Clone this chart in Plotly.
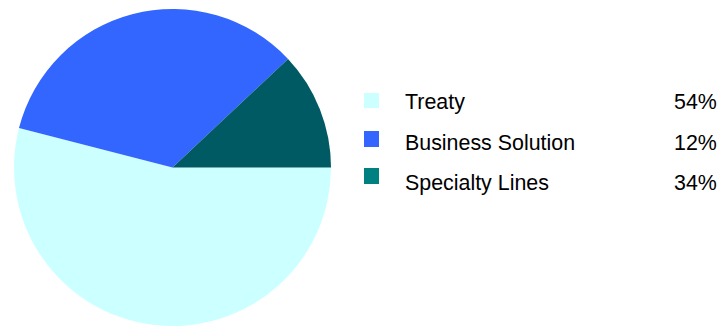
import plotly.graph_objects as go

# Portfolio split by line of business (percent)
labels = ["Treaty", "Specialty Lines", "Business Solution"]
values = [54, 34, 12]
slice_colors = ["#CCFFFF", "#3366FF", "#005A64"]

# Legend rows, listed top to bottom
legend_labels = ["Treaty", "Business Solution", "Specialty Lines"]
legend_colors = ["#CCFFFF", "#3366FF", "#008080"]

W, H = 720, 326
TOP = 9
FONT = "Liberation Sans, Arial, sans-serif"


def px_x(px):
    return px / W


def px_y(py):
    return (H - py) / (H - TOP)


fig = go.Figure(
    go.Pie(
        labels=labels,
        values=values,
        marker=dict(colors=slice_colors, line=dict(width=0)),
        sort=False,
        direction="clockwise",
        rotation=90,
        textinfo="none",
        hoverinfo="label+percent",
        showlegend=False,
        domain=dict(x=[0, px_x(345)], y=[0, 1]),
    )
)

value_of = dict(zip(labels, values))
row_text_y = [102, 143, 183]
row_box_y = [(93, 108), (131, 147), (168, 184)]

shapes = []
annotations = []
for name, color, ty, (by0, by1) in zip(legend_labels, legend_colors, row_text_y, row_box_y):
    shapes.append(dict(
        type="rect", xref="paper", yref="paper",
        x0=px_x(364), x1=px_x(379), y0=px_y(by1), y1=px_y(by0),
        fillcolor=color, line=dict(width=0),
    ))
    annotations.append(dict(
        text=name, xref="paper", yref="paper",
        x=px_x(403), y=px_y(ty), xanchor="left", yanchor="middle",
        showarrow=False, font=dict(family=FONT, size=21.4, color="#000000"),
    ))
    annotations.append(dict(
        text=f"{value_of[name]}%", xref="paper", yref="paper",
        x=px_x(719), y=px_y(ty), xanchor="right", yanchor="middle",
        showarrow=False, font=dict(family=FONT, size=21.4, color="#000000"),
    ))

fig.update_layout(
    width=W, height=H,
    margin=dict(l=0, r=0, t=TOP, b=0),
    paper_bgcolor="white", plot_bgcolor="white",
    shapes=shapes, annotations=annotations,
)

fig.write_html("out.html")
